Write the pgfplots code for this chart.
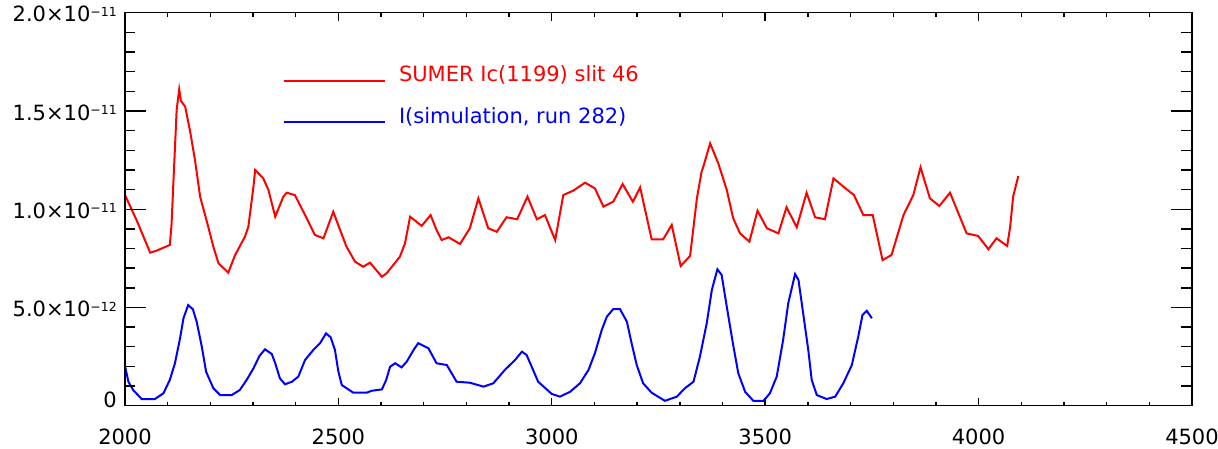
\documentclass[border=0pt]{standalone}
\usepackage{fontspec}
\setmainfont{DejaVu Sans}
\usepackage{pgfplots}
\pgfplotsset{compat=1.18}

% mantissa x 10^exponent, exponent set smaller and raised
\newcommand{\sci}[2]{#1×10\raisebox{5.5pt}{\fontsize{12.5}{12.5}\selectfont −#2}}
\newcommand{\lblfont}{\fontsize{21}{25}\selectfont}

\begin{document}
\begin{tikzpicture}
\pgfplotsset{
  frame/.style={
    scale only axis, width=1067pt, height=393pt,
    at={(0pt,0pt)}, anchor=south west,
    xmin=2000, xmax=4500, ymin=0, ymax=2e-11,
    scaled x ticks=false, scaled y ticks=false,
    axis line style={black, line width=1.4pt},
    tick style={black, line width=1.4pt},
    tick align=inside,
    tick label style={font=\lblfont, inner sep=0pt},
    /pgf/number format/assume math mode=true,
  }
}
% x ticks, data and legend
\begin{axis}[frame,
  xtick={2000,2500,3000,3500,4000,4500},
  xticklabels={2000,2500,3000,3500,4000,4500},
  minor x tick num=4,
  ytick=\empty,
  major tick length=8pt, minor tick length=4pt,
  xticklabel style={yshift=-22.8pt},
  legend style={at={(0.1481,0.8651)}, anchor=north west,
    draw=none, fill=none, inner sep=0pt, outer sep=0pt,
    row sep=19.3pt, column sep=13pt,
    nodes={inner sep=0pt, text height=16pt, text depth=6pt, font=\lblfont},
    cells={anchor=base west}},
  legend image code/.code={\draw[#1] (0pt,1pt) -- (101pt,1pt);},
]
\addplot[red, line width=2pt] coordinates {
(2000,10.72e-12) (2027,9.45e-12) (2059,7.79e-12) (2074,7.89e-12) (2105,8.18e-12)
(2109,9.20e-12) (2113,11.18e-12) (2117,13.10e-12) (2121,15.05e-12) (2127,16.10e-12)
(2131,15.52e-12) (2141,15.22e-12) (2152,14.03e-12) (2164,12.50e-12) (2176,10.64e-12)
(2195,9.11e-12) (2207,8.09e-12) (2219,7.25e-12) (2242,6.77e-12) (2258,7.67e-12)
(2281,8.60e-12) (2289,9.11e-12) (2301,11.15e-12) (2305,12.00e-12) (2324,11.57e-12)
(2336,10.98e-12) (2352,9.62e-12) (2371,10.64e-12) (2379,10.84e-12) (2398,10.72e-12)
(2422,9.70e-12) (2445,8.69e-12) (2465,8.52e-12) (2488,9.87e-12) (2504,8.94e-12)
(2519,8.09e-12) (2539,7.33e-12) (2558,7.07e-12) (2574,7.28e-12) (2602,6.56e-12)
(2613,6.74e-12) (2644,7.58e-12) (2656,8.26e-12) (2668,9.62e-12) (2683,9.36e-12)
(2695,9.15e-12) (2716,9.70e-12) (2730,8.94e-12) (2742,8.43e-12) (2758,8.57e-12)
(2785,8.23e-12) (2808,9.03e-12) (2828,10.55e-12) (2851,9.03e-12) (2871,8.85e-12)
(2894,9.59e-12) (2919,9.49e-12) (2943,10.64e-12) (2965,9.49e-12) (2984,9.70e-12)
(3008,8.43e-12) (3027,10.72e-12) (3050,10.94e-12) (3078,11.35e-12) (3101,11.06e-12)
(3121,10.13e-12) (3144,10.38e-12) (3166,11.28e-12) (3190,10.38e-12) (3207,11.11e-12)
(3234,8.47e-12) (3261,8.47e-12) (3281,9.20e-12) (3302,7.11e-12) (3324,7.62e-12)
(3340,10.55e-12) (3351,11.91e-12) (3355,12.16e-12) (3371,13.35e-12) (3390,12.34e-12)
(3410,10.98e-12) (3425,9.54e-12) (3441,8.77e-12) (3463,8.35e-12) (3482,9.92e-12)
(3504,9.03e-12) (3531,8.77e-12) (3550,10.10e-12) (3574,9.08e-12) (3597,10.84e-12)
(3617,9.59e-12) (3640,9.49e-12) (3660,11.57e-12) (3691,11.01e-12) (3708,10.72e-12)
(3730,9.70e-12) (3752,9.70e-12) (3775,7.41e-12) (3796,7.67e-12) (3824,9.70e-12)
(3847,10.72e-12) (3864,12.13e-12) (3886,10.55e-12) (3908,10.16e-12) (3933,10.84e-12)
(3972,8.77e-12) (3999,8.64e-12) (4023,7.96e-12) (4042,8.52e-12) (4067,8.13e-12)
(4074,9.11e-12) (4081,10.64e-12) (4093,11.69e-12)
};
\addlegendentry{\textcolor{red}{SUMER Ic(1199) slit 46}}
\addplot[blue, line width=2pt] coordinates {
(2000,2.02e-12) (2008,1.22e-12) (2019,0.80e-12) (2039,0.34e-12) (2070,0.34e-12)
(2090,0.63e-12) (2105,1.31e-12) (2117,2.16e-12) (2129,3.43e-12) (2137,4.45e-12)
(2148,5.12e-12) (2159,4.91e-12) (2168,4.27e-12) (2180,3.00e-12) (2190,1.73e-12)
(2207,0.89e-12) (2223,0.54e-12) (2250,0.54e-12) (2269,0.80e-12) (2285,1.31e-12)
(2301,1.90e-12) (2315,2.53e-12) (2328,2.87e-12) (2344,2.63e-12) (2352,2.16e-12)
(2363,1.39e-12) (2375,1.09e-12) (2391,1.22e-12) (2406,1.48e-12) (2422,2.33e-12)
(2441,2.83e-12) (2457,3.18e-12) (2471,3.68e-12) (2482,3.48e-12) (2492,2.83e-12)
(2500,1.73e-12) (2508,1.05e-12) (2535,0.66e-12) (2566,0.66e-12) (2578,0.76e-12)
(2602,0.83e-12) (2612,1.31e-12) (2621,1.98e-12) (2633,2.16e-12) (2648,1.95e-12)
(2660,2.24e-12) (2676,2.83e-12) (2687,3.18e-12) (2711,2.92e-12) (2730,2.16e-12)
(2754,2.07e-12) (2777,1.22e-12) (2808,1.17e-12) (2840,0.97e-12) (2863,1.14e-12)
(2890,1.82e-12) (2914,2.33e-12) (2930,2.75e-12) (2941,2.58e-12) (2953,1.98e-12)
(2968,1.22e-12) (3000,0.60e-12) (3019,0.46e-12) (3043,0.71e-12) (3066,1.14e-12)
(3086,1.82e-12) (3101,2.67e-12) (3117,3.85e-12) (3129,4.53e-12) (3144,4.92e-12)
(3160,4.91e-12) (3176,4.27e-12) (3187,3.18e-12) (3199,2.07e-12) (3214,1.14e-12)
(3234,0.66e-12) (3265,0.25e-12) (3293,0.46e-12) (3312,0.89e-12) (3332,1.22e-12)
(3347,2.49e-12) (3363,4.19e-12) (3375,5.89e-12) (3388,6.94e-12) (3398,6.65e-12)
(3410,5.04e-12) (3425,3.09e-12) (3437,1.65e-12) (3453,0.71e-12) (3472,0.25e-12)
(3496,0.25e-12) (3511,0.63e-12) (3527,1.48e-12) (3542,3.34e-12) (3554,5.21e-12)
(3570,6.70e-12) (3578,6.40e-12) (3589,4.70e-12) (3601,2.83e-12) (3609,1.31e-12)
(3621,0.54e-12) (3644,0.34e-12) (3664,0.46e-12) (3683,1.14e-12) (3703,2.07e-12)
(3718,3.51e-12) (3728,4.62e-12) (3738,4.83e-12) (3750,4.45e-12)
};
\addlegendentry{\textcolor{blue}{I(simulation, run 282)}}
\end{axis}
% y ticks and their labels
\begin{axis}[frame,
  xtick=\empty,
  ytick={0,5e-12,1e-11,1.5e-11,2e-11},
  yticklabels={\smash{\raisebox{7pt}{0}}\vphantom{0}, \sci{5.0}{12}, \sci{1.0}{11}, \sci{1.5}{11}, \sci{2.0}{11}},
  minor y tick num=4,
  major tick length=21pt, minor tick length=10.5pt,
  yticklabel style={xshift=-8pt, yshift=-1.5pt},
]
\end{axis}
\pgfresetboundingbox
\path[use as bounding box] (-125pt,-42.3pt) rectangle (1093pt,405.7pt);
\end{tikzpicture}
\end{document}
